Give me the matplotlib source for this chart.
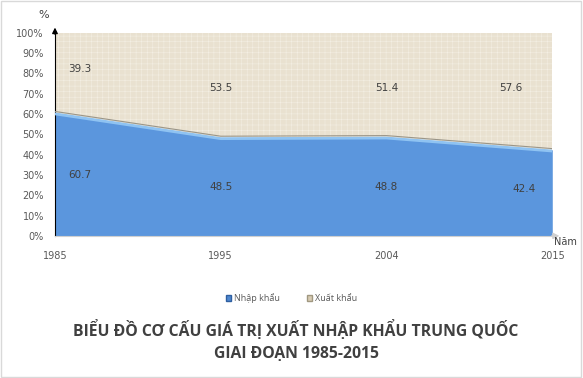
import matplotlib
matplotlib.use('Agg')
import matplotlib.pyplot as plt
import numpy as np

# Dữ liệu
years = ['1985', '1995', '2004', '2015']
nhap_khau = [60.7, 48.5, 48.8, 42.4]
xuat_khau = [39.3, 53.5, 51.4, 57.6]

plt.rcParams['font.family'] = ['DejaVu Sans']
plt.rcParams['hatch.linewidth'] = 0.4

fig = plt.figure(figsize=(5.83, 3.78), dpi=100)
ax = fig.add_axes([0.0943, 0.376, 0.853, 0.537])

x = np.arange(len(years))
nk = np.array(nhap_khau)
xk = np.array(xuat_khau)
top = nk + xk

ax.fill_between(x, 0, nk, color='#5b96dd', lw=0, zorder=2)
ax.fill_between(x, nk, np.minimum(top, 100), color='#e9e1d0', lw=0, zorder=2,
                hatch='+++', edgecolor='#f3eee3')
ax.plot(x, nk - 0.6, color='#8fc3f2', lw=2, zorder=3)
ax.plot(x, nk + 0.6, color='#9a9588', lw=0.8, zorder=3)

# nhãn giá trị
lx = [0.15, 0, 0, -0.25]
ly_x = [82, 73, 73, 73]
lx_n = [0.15, 0, 0, -0.17]
ly_n = [30, 24, 24, 23]
for i in range(len(years)):
    ax.text(x[i] + lx[i], ly_x[i], f'{xuat_khau[i]:.1f}', ha='center', va='center',
            fontsize=7.5, color='#404040', zorder=4)
    ax.text(x[i] + lx_n[i], ly_n[i], f'{nhap_khau[i]:.1f}', ha='center', va='center',
            fontsize=7.5, color='#404040', zorder=4)

ax.set_xlim(0, 3)
ax.set_ylim(0, 100)
ax.set_yticks(range(0, 101, 10))
ax.set_yticklabels([f'{v}%' for v in range(0, 101, 10)])
ax.set_xticks(x)
ax.set_xticklabels(years)
ax.tick_params(axis='both', labelsize=7, labelcolor='#595959', length=0)
ax.tick_params(axis='x', pad=11)
ax.tick_params(axis='y', pad=8)
for s in ['top', 'right']:
    ax.spines[s].set_visible(False)
ax.spines['left'].set_color('black')
ax.spines['bottom'].set_color('#d0d0d0')

# mũi tên trục
ax.annotate('', xy=(0, 104), xytext=(0, 98), xycoords='data',
            arrowprops=dict(arrowstyle='-|>', color='black', lw=1, mutation_scale=8),
            annotation_clip=False)
ax.annotate('', xy=(3.06, 0), xytext=(2.98, 0),
            arrowprops=dict(arrowstyle='-|>', color='#d0d0d0', lw=1, mutation_scale=9),
            annotation_clip=False)

fig.text(44 / 583, 1 - 15 / 378, '%', fontsize=8, color='#404040', ha='center', va='center')
fig.text(565 / 583, 1 - 242 / 378, 'Năm', fontsize=7, color='#404040', ha='center', va='center')

# chú thích
h1 = plt.Rectangle((0, 0), 1, 1, fc='#4f88d0', ec='#2f5fa0')
h2 = plt.Rectangle((0, 0), 1, 1, fc='#d8ccb3', ec='#a09880')
fig.legend([h1, h2], ['Nhập khẩu', 'Xuất khẩu'], loc='center', bbox_to_anchor=(0.5, 1 - 298 / 378),
           ncol=2, frameon=False, handlelength=0.6, handleheight=0.6,
           handletextpad=0.3, columnspacing=3, labelcolor='#595959',
           prop={'family': 'Open Sans', 'size': 6.5})

fig.text(0.508, 1 - 330 / 378, 'BIỂU ĐỒ CƠ CẤU GIÁ TRỊ XUẤT NHẬP KHẨU TRUNG QUỐC',
         fontsize=11.3, fontweight='bold', color='#404040', ha='center', va='center',
         family='Open Sans')
fig.text(0.508, 1 - 354 / 378, 'GIAI ĐOẠN 1985-2015',
         fontsize=11.3, fontweight='bold', color='#404040', ha='center', va='center',
         family='Open Sans')

fig.patches.append(plt.Rectangle((0.002, 0.003), 0.995, 0.994, transform=fig.transFigure,
                                 fill=False, ec='#d9d9d9', lw=1))

fig.savefig('out.png', dpi=100)
